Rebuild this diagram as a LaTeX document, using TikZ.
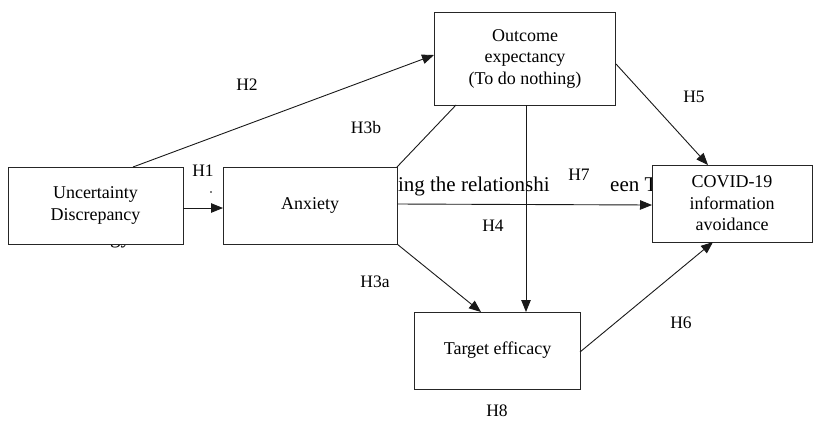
\documentclass[tikz,border=0pt]{standalone}
\usepackage{fontspec}
\setmainfont{Liberation Serif}
\usetikzlibrary{arrows.meta}
\begin{document}
\begin{tikzpicture}[x=1pt,y=-1pt,
  box/.style={draw=black!85,line width=0.9pt,fill=white,align=center,font=\fontsize{18}{21.5}\selectfont},
  lbl/.style={font=\fontsize{17.5}{20}\selectfont,inner sep=0pt},
  frag/.style={font=\fontsize{21}{24}\selectfont,inner sep=0pt},
  conn/.style={line width=0.9pt,draw=black!90},
  arr/.style={conn,-{Triangle[length=12pt,width=9.5pt]}}]
\useasboundingbox (0,0) rectangle (821,424);
% faint leftover fragments behind the boxes
\node[frag,anchor=base west] (f1) at (392,191) {ting the relationshi};
\node[frag,anchor=base west] (f2) at (610,191) {een Target};
\node[frag,anchor=base west] (f3) at (110,243) {gy};
% boxes
\node[box,minimum width=175pt,minimum height=77pt] (ud) at (95.5,205.5) {Uncertainty\\Discrepancy};
\node[box,minimum width=174pt,minimum height=77pt] (ax) at (310,205.5) {Anxiety};
\node[box,minimum width=181pt,minimum height=93pt] (oe) at (525,58.5) {Outcome\\expectancy\\(To do nothing)};
\node[box,minimum width=160pt,minimum height=77pt] (cv) at (732,203.5) {COVID-19\\information\\avoidance};
\node[box,minimum width=166pt,minimum height=77pt] (te) at (497.5,350.5) {Target efficacy};
% coordinates
\coordinate (udt) at (133,167);
\coordinate (oel) at (434,55);
\coordinate (oeb1) at (456,105);
\coordinate (axtr) at (397,167);
\coordinate (udr) at (183,208);
\coordinate (axl) at (223,208);
\coordinate (axr) at (397,204);
\coordinate (cvl) at (652,205);
\coordinate (oeb2) at (526,105);
\coordinate (tet2) at (526,312);
\coordinate (axbr) at (397,244);
\coordinate (tet1) at (481,312);
\coordinate (oer) at (616,64);
\coordinate (cvt) at (708,165);
\coordinate (ter) at (580,352);
\coordinate (cvb) at (713,242);
% connectors
\draw[arr] (udt) -- (oel);
\draw[conn] (oeb1) -- (axtr);
\draw[arr] (udr) -- (axl);
\draw[arr] (axr) -- (cvl);
\draw[arr] (oeb2) -- (tet2);
\draw[arr] (axbr) -- (tet1);
\draw[arr] (oer) -- (cvt);
\draw[arr] (ter) -- (cvb);
% labels
\node[lbl] (h2) at (247,85) {H2};
\node[lbl] (h3b) at (366,128) {H3b};
\node[lbl] (h1) at (203,171) {H1};
\node[lbl] (h7) at (579,175) {H7};
\node[lbl] (h4) at (493,226) {H4};
\node[lbl] (h3a) at (375,282) {H3a};
\node[lbl] (h5) at (694,97) {H5};
\node[lbl] (h6) at (681,323) {H6};
\node[lbl] (h8) at (497,411) {H8};
\fill (211,192) circle (0.8pt);
\end{tikzpicture}
\end{document}
